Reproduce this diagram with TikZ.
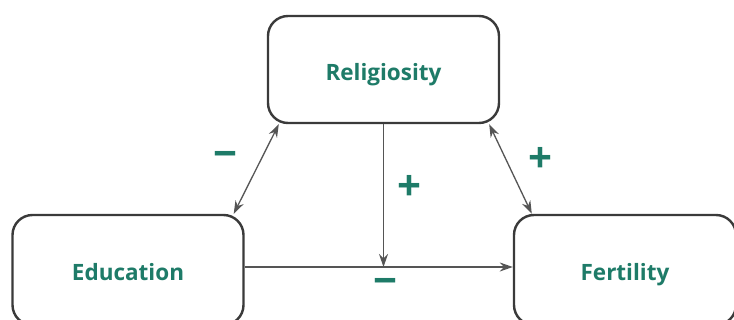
\documentclass[tikz,border=0pt]{standalone}
\usepackage{fontspec}
\setmainfont{Open Sans}
\usetikzlibrary{arrows.meta}

\definecolor{labelgreen}{HTML}{1E7B68}
\definecolor{boxgray}{HTML}{3A3A3A}
\definecolor{linkgray}{HTML}{555555}

\begin{document}
\begin{tikzpicture}[x=1pt,y=-1pt]
\tikzstyle{box}=[draw=boxgray, line width=2.4pt, rounded corners=20pt, minimum width=231pt, minimum height=107pt, inner sep=0pt, text height=22pt, text depth=0pt, text=labelgreen, font=\fontsize{22.5}{26}\selectfont\bfseries]
\tikzstyle{link}=[draw=linkgray, line width=1.3pt, -{Stealth[length=13pt,width=9pt]}]
\tikzstyle{twoway}=[link, {Stealth[length=13pt,width=9pt]}-{Stealth[length=13pt,width=9pt]}]
\tikzstyle{sign}=[text=labelgreen, inner sep=0pt, font=\fontsize{42}{42}\selectfont\bfseries]
\useasboundingbox (0,0) rectangle (734,320);
\fill[white] (0,0) rectangle (734,320);
% the three boxes
\node[box] (rel) at (383.5,69.5) {Religiosity};
\node[box, minimum height=110pt] (edu) at (128,270) {Education};
\node[box, minimum width=222pt, minimum height=110pt] (fer) at (625,270) {Fertility};
% connectors
\draw[twoway] ([xshift=12pt]rel.south west) -- ([xshift=-11pt]edu.north east);
\draw[twoway] ([xshift=-11pt]rel.south east) -- ([xshift=19pt]fer.north west);
\coordinate (eduout) at ([yshift=3pt]edu.east);
\coordinate (ferin) at ([yshift=3pt]fer.west);
\draw[link] (eduout) -- (ferin);
\coordinate (join) at (rel.south |- eduout);
\draw[link] (rel.south) -- (join);
% signs
\node[sign] (edurel) at (225,160) {−};
\node[sign] (relfer) at (540,160) {+};
\node[sign] (relmod) at (409,188) {+};
\node[sign] (edufer) at (385,287) {−};
\end{tikzpicture}
\end{document}
